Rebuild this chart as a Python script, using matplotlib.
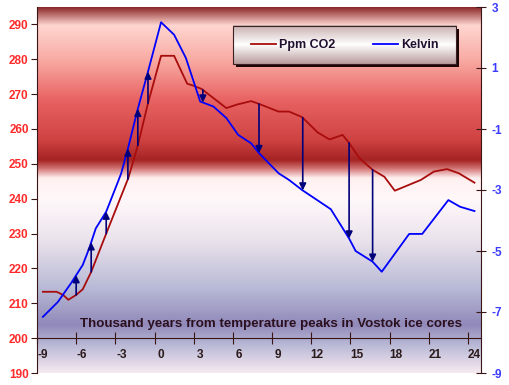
import numpy as np
import matplotlib.pyplot as plt
import matplotlib.transforms as mtransforms
from matplotlib.colors import to_rgb
from matplotlib.patches import Rectangle

plt.rcParams['font.family'] = ['Liberation Sans', 'DejaVu Sans']
plt.rcParams['axes.unicode_minus'] = False

# CO2 (ppm, left axis)
co2_x = [-8.55, -7.5, -7.0, -6.6, -6.0, -5.5, -4.85, -3.7, -2.0, -1.3, -0.5,
         0.5, 1.5, 2.5, 3.0, 3.6, 4.5, 5.5, 6.3, 7.4, 8.0, 9.5, 10.3, 11.3,
         12.5, 13.4, 14.4, 14.9, 15.7, 16.7, 17.6, 18.4, 20.4, 21.4, 22.4,
         23.3, 24.5]
co2_ppm = [213.3, 213.3, 212.4, 211.0, 212.4, 214.0, 219.0, 230.0, 246.0,
           255.0, 267.4, 281.0, 281.0, 273.0, 272.4, 271.5, 268.9, 266.0,
           267.0, 268.0, 267.2, 265.0, 265.0, 263.4, 259.0, 257.0, 258.3,
           256.0, 251.6, 248.3, 246.3, 242.3, 245.4, 247.8, 248.5, 247.3,
           244.6]

# temperature anomaly (Kelvin, right axis)
kel_x = [-8.55, -7.4, -6.4, -5.5, -5.0, -4.5, -3.7, -2.8, -2.55, -2.0, -1.3,
         -0.5, 0.5, 1.5, 2.4, 3.5, 4.5, 5.5, 6.4, 7.4, 8.0, 9.5, 10.3, 11.3,
         13.5, 14.9, 15.4, 16.7, 17.4, 19.5, 20.5, 22.5, 23.4, 24.5]
kel_t = [-7.16, -6.67, -6.06, -5.46, -4.91, -4.26, -3.71, -2.73, -2.45, -1.58,
         -0.37, 0.88, 2.5, 2.09, 1.33, -0.1, -0.26, -0.64, -1.19, -1.47, -1.79,
         -2.45, -2.67, -3.0, -3.63, -4.59, -5.0, -5.35, -5.68, -4.44, -4.44,
         -3.33, -3.55, -3.69]

# arrows: CO2 curve -> temperature curve
arrow_x = [-6.0, -4.85, -3.7, -2.04, -1.28, -0.5, 3.7, 8.0, 11.35, 14.9, 16.7]

x_ticks = list(range(-9, 25, 3))
ppm_ticks = list(range(190, 300, 10))
kel_ticks = list(range(-9, 4, 2))

# background gradient stops (axes fraction from bottom, colour)
bg_stops = [(0.0, '#f6e9f0'), (0.077, '#b8b8d6'), (0.131, '#9189b9'),
            (0.227, '#b6b8d5'), (0.363, '#ebe3ec'), (0.473, '#fff8fa'),
            (0.533, '#fff0f0'), (0.56, '#d07070'), (0.582, '#a52323'),
            (0.637, '#cf4242'), (0.746, '#e86262'), (0.855, '#f8aaa2'),
            (0.951, '#ffd6d1'), (1.0, '#8c2a2a')]


def gradient(stops, n=400):
    f = np.linspace(0, 1, n)
    pos = [s[0] for s in stops]
    rgb = np.array([to_rgb(s[1]) for s in stops])
    img = np.stack([np.interp(f, pos, rgb[:, i]) for i in range(3)], axis=-1)
    return img[:, None, :]


fig = plt.figure(figsize=(5.1, 3.85), dpi=100, facecolor='white')
ax = fig.add_axes([37 / 510, 12 / 385, 444 / 510, 366 / 385])
ax2 = ax.twinx()

ax.imshow(gradient(bg_stops), extent=[0, 1, 0, 1], transform=ax.transAxes,
          origin='lower', aspect='auto', interpolation='bilinear', zorder=0)

l1, = ax.plot(co2_x, co2_ppm, color='#a80c0c', lw=1.3, zorder=3)
l2, = ax2.plot(kel_x, kel_t, color='#0000ff', lw=1.3, zorder=3)

for x in arrow_x:
    y0 = np.interp(x, co2_x, co2_ppm)
    y1 = np.interp(x, kel_x, kel_t)
    ax2.annotate('', xy=(x, y1), xytext=(x, y0), textcoords=ax.transData,
                 arrowprops=dict(arrowstyle='-|>', color='#00007a', lw=1.2,
                                 mutation_scale=10, shrinkA=0, shrinkB=0),
                 zorder=4)

spine_col = '#3a1515'
for s in ['top', 'right']:
    ax.spines[s].set_visible(False)
for s in ['top', 'left', 'bottom']:
    ax2.spines[s].set_visible(False)
ax.spines['left'].set_color(spine_col)
ax.spines['bottom'].set_color(spine_col)
ax.spines['bottom'].set_position(('data', 200))
ax2.spines['right'].set_color(spine_col)

ax.set_xticks(x_ticks)
ax.set_xticklabels([str(t) for t in x_ticks])
ax.tick_params(axis='x', direction='inout', length=8, color=spine_col,
               labelsize=8.5, labelcolor='#2b1a1a', pad=4)
# shift category labels a little to the right like the original
offset = mtransforms.ScaledTranslation(6 / 100, 0, fig.dpi_scale_trans)
for lab in ax.get_xticklabels():
    lab.set_fontweight('bold')
    lab.set_transform(lab.get_transform() + offset)

ax.set_yticks(ppm_ticks)
ax.tick_params(axis='y', direction='out', length=4, color=spine_col,
               labelsize=8.5, labelcolor='#ff2a2a', pad=2)
for lab in ax.get_yticklabels():
    lab.set_fontweight('bold')

ax2.set_yticks(kel_ticks)
ax2.tick_params(axis='y', direction='inout', length=7, color=spine_col,
                labelsize=8.5, labelcolor='#3b3bff', pad=4)
for lab in ax2.get_yticklabels():
    lab.set_fontweight('bold')

ax.text(0.527, 0.134, 'Thousand years from temperature peaks in Vostok ice cores',
        transform=ax.transAxes, ha='center', va='center', fontsize=9.6,
        fontweight='bold', color='#2b1020', zorder=5)

# legend box with gradient and shadow
bx0, bx1, by0, by1 = 0.441, 0.944, 0.844, 0.948
ax2.add_patch(Rectangle((bx0 + 0.0068, by0 - 0.0082), bx1 - bx0, by1 - by0,
                        transform=ax2.transAxes, facecolor='#1e0505',
                        edgecolor='none', zorder=5))
ax2.imshow(gradient([(0, '#b89a9a'), (0.5, '#ffffff'), (1, '#c8aeae')]),
           extent=[bx0, bx1, by0, by1], transform=ax2.transAxes,
           origin='lower', aspect='auto', interpolation='bilinear', zorder=5.1)
ax2.add_patch(Rectangle((bx0, by0), bx1 - bx0, by1 - by0,
                        transform=ax2.transAxes, facecolor='none',
                        edgecolor='#3a2020', lw=0.8, zorder=5.2))
leg = ax2.legend([l1, l2], ['Ppm CO2', 'Kelvin'], loc='center',
                 bbox_to_anchor=((bx0 + bx1) / 2, (by0 + by1) / 2),
                 bbox_transform=ax2.transAxes, ncol=2, frameon=False,
                 prop=dict(weight='bold', size=9), handlelength=2.0,
                 handletextpad=0.25, columnspacing=3.0, labelcolor='#201030')
leg.set_zorder(6)

ax.set_xlim(-9, 25)
ax.set_ylim(190, 295)
ax2.set_xlim(-9, 25)
ax2.set_ylim(-9, 3)

fig.savefig('out.png', dpi=100, facecolor='white')
